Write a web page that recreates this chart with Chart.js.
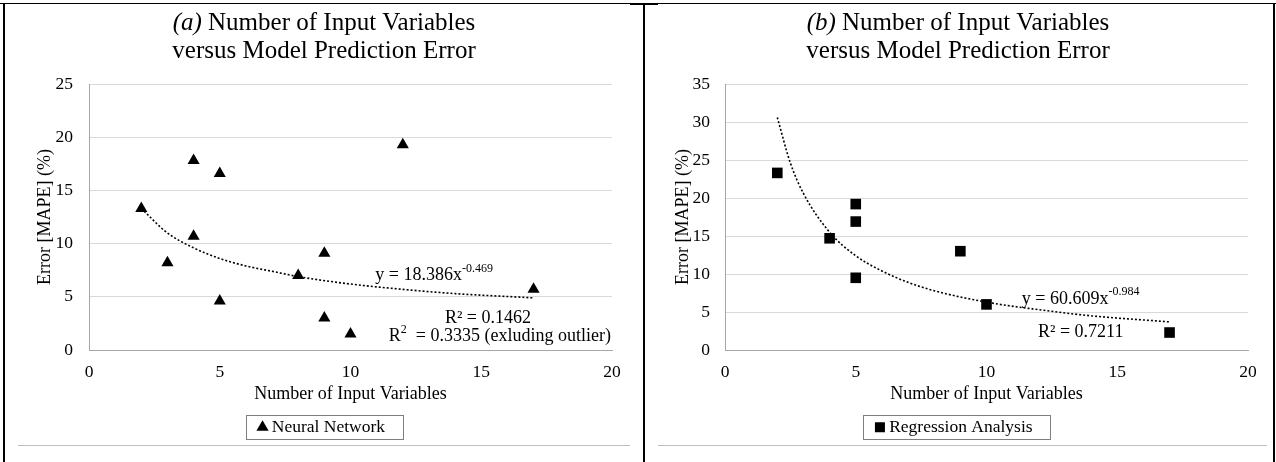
<!DOCTYPE html>
<html>
<head>
<meta charset="utf-8">
<script src="https://cdn.jsdelivr.net/npm/chart.js@4.4.0/dist/chart.umd.min.js"></script>
<style>
  body { margin: 0; background: #fff; }
  #page { position: relative; width: 1276px; height: 462px; overflow: hidden; background: #fff; }
  #page canvas { position: absolute; top: 0; }
  .rule { position: absolute; background: #000; }
  .grey { position: absolute; background: #bfbfbf; height: 1px; }
</style>
</head>
<body>
<div id="page">
  <canvas id="nnChart" width="638" height="462" style="left:5px"></canvas>
  <canvas id="raChart" width="624" height="462" style="left:646px"></canvas>

  <div class="rule" style="left:0;top:3px;width:1276px;height:1px"></div>
  <div class="rule" style="left:630px;top:3px;width:28px;height:2px"></div>
  <div class="rule" style="left:3px;top:3px;width:2px;height:459px"></div>
  <div class="rule" style="left:643px;top:3px;width:2px;height:459px"></div>
  <div class="rule" style="left:1273px;top:3px;width:2px;height:459px"></div>
  <div class="grey" style="left:18px;top:445px;width:612px"></div>
  <div class="grey" style="left:658px;top:445px;width:609px"></div>
</div>

<script>
// (a) neural network models
var nnX = [2, 3, 4, 4, 5, 5, 8, 9, 9, 10, 12, 17];
var nnY = [13.3, 8.2, 17.8, 10.7, 16.6, 4.6, 7.0, 9.1, 3.0, 1.5, 19.3, 5.7];
// dotted power trendline
var nnTrendX = [2, 3, 4, 5, 6, 7, 8, 10, 12, 14, 17];
var nnTrendY = [13.3, 11.0, 9.6, 8.6, 7.9, 7.4, 6.9, 6.2, 5.7, 5.3, 4.9];

// (b) regression models
var raX = [2, 4, 5, 5, 5, 9, 10, 17];
var raY = [23.3, 14.7, 19.2, 16.9, 9.5, 13.0, 6.0, 2.3];
var raTrendX = [2, 2.5, 3, 4, 5, 6, 7, 8, 10, 12, 14, 17];
var raTrendY = [30.6, 24.6, 20.6, 15.5, 12.4, 10.4, 8.9, 7.8, 6.3, 5.3, 4.5, 3.7];

var xTicks = [0, 5, 10, 15, 20];
var nnYTicks = [0, 5, 10, 15, 20, 25];
var raYTicks = [0, 5, 10, 15, 20, 25, 30, 35];

var xTitle = 'Number of Input Variables';
var yTitle = 'Error [MAPE] (%)';

var serif = '"Liberation Serif", "Times New Roman", serif';

function toPoints(xs, ys) {
  var pts = [];
  for (var i = 0; i < xs.length; i++) {
    pts.push({ x: xs[i], y: ys[i] });
  }
  return pts;
}

// draws a row of text pieces (plain / italic / superscript) starting at x
function drawRun(ctx, parts, x, y, align) {
  var total = 0;
  parts.forEach(function (p) {
    ctx.font = (p.italic ? 'italic ' : '') + p.size + 'px ' + serif;
    p.w = ctx.measureText(p.text).width;
    total += p.w;
  });
  if (align === 'center') x -= total / 2;
  if (align === 'right') x -= total;
  ctx.textAlign = 'left';
  ctx.textBaseline = 'middle';
  ctx.fillStyle = '#000';
  parts.forEach(function (p) {
    ctx.font = (p.italic ? 'italic ' : '') + p.size + 'px ' + serif;
    ctx.fillText(p.text, x, y + (p.dy || 0));
    x += p.w;
  });
}

var textPlugin = {
  id: 'panelText',
  afterDraw: function (chart) {
    var ctx = chart.ctx;
    var o = chart.options.plugins.panelText;
    var w = chart.width;
    ctx.save();
    drawRun(ctx, [{ text: o.letter, italic: true, size: 25 }, { text: ' Number of Input Variables', size: 25 }], w / 2, 23, 'center');
    drawRun(ctx, [{ text: 'versus Model Prediction Error', size: 25 }], w / 2, 51, 'center');

    var xs = chart.scales.x, ys = chart.scales.y;
    o.notes.forEach(function (n) {
      drawRun(ctx, n.parts, xs.getPixelForValue(n.x), ys.getPixelForValue(n.y), n.align);
    });

    // framed legend like the spreadsheet one
    var hb = chart.legend.legendHitBoxes[0];
    if (hb) {
      var mid = hb.top + hb.height / 2;
      ctx.strokeStyle = '#7f7f7f';
      ctx.lineWidth = 1;
      ctx.strokeRect(Math.round(hb.left - 16) + 0.5, Math.round(mid - 12) + 0.5,
        Math.round(hb.width + 34), 24);
    }
    ctx.restore();
  }
};

function scatterChart(canvas, cfg) {
  var tickFont = { family: serif, size: 17.5 };
  var labelFont = { family: serif, size: 18 };
  return new Chart(canvas, {
    type: 'scatter',
    data: {
      datasets: [{
        label: cfg.name,
        data: toPoints(cfg.x, cfg.y),
        pointStyle: cfg.marker,
        pointRadius: cfg.radius,
        pointHoverRadius: cfg.radius,
        backgroundColor: '#000',
        borderColor: '#000',
        borderWidth: 0,
        order: 0
      }, {
        label: 'trend',
        data: toPoints(cfg.trendX, cfg.trendY),
        showLine: true,
        borderColor: '#000',
        borderWidth: 1.6,
        borderDash: [2, 2],
        pointRadius: 0,
        cubicInterpolationMode: 'monotone',
        fill: false,
        order: 1
      }]
    },
    options: {
      responsive: false,
      animation: false,
      devicePixelRatio: 1,
      layout: { padding: { top: 84, left: cfg.padSide, right: cfg.padRight, bottom: 16 } },
      plugins: {
        title: { display: false },
        tooltip: { enabled: false },
        legend: {
          position: 'bottom',
          labels: {
            filter: function (item) { return item.datasetIndex === 0; },
            usePointStyle: true,
            boxWidth: 1,
            boxHeight: 10,
            padding: 10,
            color: '#000',
            font: tickFont
          }
        },
        panelText: cfg.text
      },
      scales: {
        x: {
          type: 'linear',
          min: xTicks[0],
          max: xTicks[xTicks.length - 1],
          afterBuildTicks: function (s) { s.ticks = xTicks.map(function (v) { return { value: v }; }); },
          grid: { display: false, drawTicks: false },
          border: { color: '#a6a6a6', width: 1 },
          ticks: { color: '#000', font: tickFont, padding: 12, maxRotation: 0 },
          title: { display: true, text: xTitle, color: '#000', font: labelFont, padding: { top: 0, bottom: 3 } },
          afterFit: function (s) { s.height = 58.5; }
        },
        y: {
          type: 'linear',
          min: cfg.yTicks[0],
          max: cfg.yTicks[cfg.yTicks.length - 1],
          afterBuildTicks: function (s) { s.ticks = cfg.yTicks.map(function (v) { return { value: v }; }); },
          grid: { color: '#d9d9d9', drawTicks: false },
          border: { color: '#a6a6a6', width: 1 },
          ticks: { color: '#000', font: tickFont, padding: cfg.yPad },
          title: { display: true, text: yTitle, color: '#000', font: labelFont, padding: { top: cfg.yTitlePad, bottom: 0 } },
          afterFit: function (s) { s.width = cfg.yWidth; }
        }
      }
    },
    plugins: [textPlugin]
  });
}

scatterChart(document.getElementById('nnChart'), {
  name: 'Neural Network',
  x: nnX, y: nnY, trendX: nnTrendX, trendY: nnTrendY,
  marker: 'triangle', radius: 7,
  yTicks: nnYTicks,
  padSide: 30, padRight: 31, yWidth: 54, yPad: 16, yTitlePad: -1,
  text: {
    letter: '(a)',
    notes: [
      { x: 10.95, y: 7.0, align: 'left', parts: [{ text: 'y = 18.386x', size: 18 }, { text: '-0.469', size: 12, dy: -7 }] },
      { x: 16.9, y: 3.0, align: 'right', parts: [{ text: 'R\u00b2 = 0.1462', size: 18 }] },
      { x: 19.96, y: 1.25, align: 'right', parts: [{ text: 'R', size: 18 }, { text: '2', size: 12, dy: -7 }, { text: '  = 0.3335 (exluding outlier)', size: 18 }] }
    ]
  }
});

scatterChart(document.getElementById('raChart'), {
  name: 'Regression Analysis',
  x: raX, y: raY, trendX: raTrendX, trendY: raTrendY,
  marker: 'rect', radius: 7.5,
  yTicks: raYTicks,
  padSide: 18, padRight: 22, yWidth: 61, yPad: 15, yTitlePad: 8,
  text: {
    letter: '(b)',
    notes: [
      { x: 11.35, y: 6.7, align: 'left', parts: [{ text: 'y = 60.609x', size: 18 }, { text: '-0.984', size: 12, dy: -7 }] },
      { x: 11.97, y: 2.3, align: 'left', parts: [{ text: 'R\u00b2 = 0.7211', size: 18 }] }
    ]
  }
});
</script>
</body>
</html>
